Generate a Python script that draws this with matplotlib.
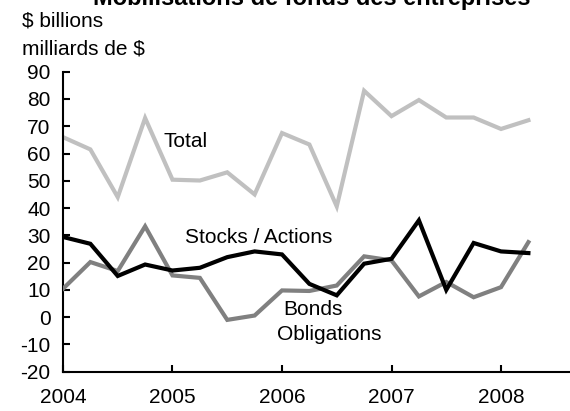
import matplotlib
matplotlib.use("Agg")
import matplotlib.pyplot as plt

# Quarterly data, 2004Q1 - 2008Q2 (billions of $)
years = [2004] * 4 + [2005] * 4 + [2006] * 4 + [2007] * 4 + [2008] * 2
quarters = [1, 2, 3, 4] * 4 + [1, 2]
total = [66.0, 61.5, 44.0, 73.0, 50.4, 50.1, 53.1, 45.0, 67.5,
         63.3, 40.6, 83.0, 73.7, 79.6, 73.2, 73.2, 69.0, 72.2]
stocks = [29.4, 26.9, 15.1, 19.3, 17.1, 18.1, 22.0, 24.1, 23.0,
          12.2, 8.0, 19.6, 21.4, 35.5, 10.0, 27.2, 24.1, 23.5]
bonds = [10.4, 20.2, 16.9, 33.3, 15.3, 14.4, -1.0, 0.6, 9.8,
         9.6, 11.6, 22.3, 20.8, 7.6, 12.9, 7.3, 11.0, 27.5]
year_ticks = [2004, 2005, 2006, 2007, 2008]
y_ticks = list(range(-20, 91, 10))

x = [y + (q - 1) / 4 for y, q in zip(years, quarters)]

plt.rcParams["font.family"] = ["Liberation Sans", "DejaVu Sans"]
plt.rcParams["axes.unicode_minus"] = False

fig = plt.figure(figsize=(5.7, 4.11), dpi=100)
ax = fig.add_axes([0.1105, 0.0956, 0.8895, 0.73])

ax.plot(x, total, color="#c0c0c0", lw=3.0, zorder=2, solid_joinstyle="miter")
ax.plot(x, bonds, color="#808080", lw=3.0, zorder=3, solid_joinstyle="miter")
ax.plot(x, stocks, color="#000000", lw=3.0, zorder=4, solid_joinstyle="miter")

ax.set_xlim(2004, 2008.63)
ax.set_ylim(-20, 90)
ax.set_xticks(year_ticks)
ax.set_yticks(y_ticks)
ax.tick_params(direction="in", length=5, width=1.5, labelsize=15)
ax.tick_params(axis="x", pad=12)
ax.tick_params(axis="y", pad=9)
ax.spines[["top", "right"]].set_visible(False)
ax.spines[["left", "bottom"]].set_linewidth(1.5)

ax.text(2004.92, 62.5, "Total", fontsize=15, ha="left", va="baseline")
ax.text(2005.115, 27.2, "Stocks / Actions", fontsize=15, ha="left", va="baseline")
ax.text(2006.01, 0.8, "Bonds", fontsize=15, ha="left", va="baseline")
ax.text(2005.956, -8.4, "Obligations", fontsize=15, ha="left", va="baseline")

# title sits partly above the canvas, as in the original
fig.text(0.547, 0.988, "Mobilisations de fonds des entreprises",
         fontsize=17, fontweight="bold", ha="center", va="baseline")
fig.text(0.038, 1 - 26 / 411, "$ billions", fontsize=15, ha="left", va="baseline")
fig.text(0.038, 1 - 55 / 411, "milliards de $", fontsize=15, ha="left", va="baseline")

fig.savefig("out.png", dpi=100)
